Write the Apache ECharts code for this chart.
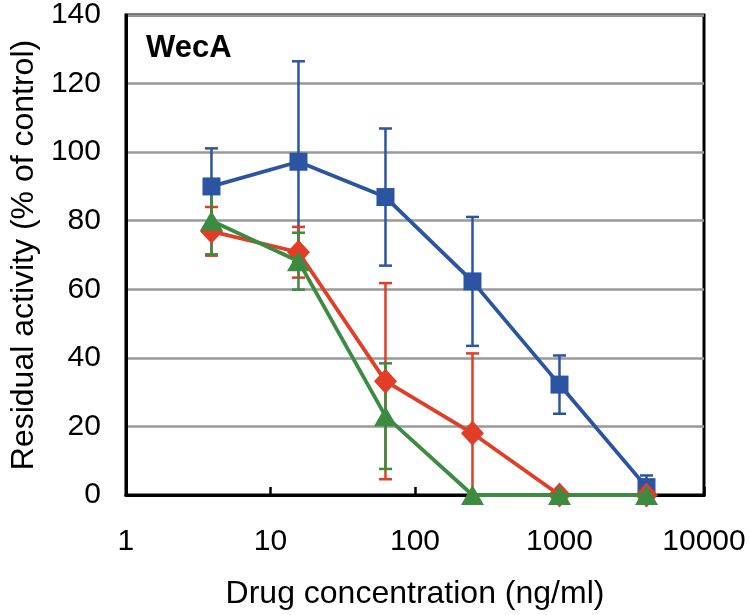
<!DOCTYPE html>
<html>
<head>
<meta charset="utf-8">
<script src="https://cdn.jsdelivr.net/npm/echarts@6/dist/echarts.min.js"></script>
<style>html,body{margin:0;padding:0;background:#fff}#c{width:750px;height:615px}</style>
</head>
<body>
<div id="c"></div>
<script>
const concentrations = [3.90625, 15.625, 62.5, 250, 1000, 4000];
const blueValues = [90.0, 97.2, 86.9, 62.3, 32.2, 2.3];
const blueErrors = [11.1, 29.3, 20.0, 18.8, 8.5, 3.4];
const redValues = [76.9, 70.8, 33.2, 18.0, 0, 0];
const redErrors = [7.1, 7.4, 28.6, 23.3, 0, 0];
const greenValues = [80.0, 68.2, 23.0, 0, 0, 0];
const greenErrors = [9.8, 8.3, 15.4, 0, 0, 0];
const xTicks = [1, 10, 100, 1000, 10000];
const yTicks = [0, 20, 40, 60, 80, 100, 120, 140];

const FONT = '"Liberation Sans", Arial, Helvetica, sans-serif';
const BLUE = '#2B55A3', RED = '#E23D27', GREEN = '#3B8C40';

function pairs(vals) { return concentrations.map((x, i) => [x, vals[i]]); }
function errData(vals, errs) { return concentrations.map((x, i) => [x, vals[i], errs[i]]); }

function errSeries(vals, errs, color) {
  return {
    type: 'custom',
    z: 1,
    data: errData(vals, errs),
    renderItem: function (params, api) {
      const x = api.value(0), v = api.value(1), e = api.value(2);
      if (!e) return null;
      const hi = api.coord([x, v + e]);
      const lo = api.coord([x, Math.max(0, v - e)]);
      const half = 6.5;
      const style = { stroke: color, lineWidth: 2.5 };
      const children = [
        { type: 'line', shape: { x1: hi[0], y1: hi[1], x2: lo[0], y2: lo[1] }, style: style },
        { type: 'line', shape: { x1: hi[0] - half, y1: hi[1], x2: hi[0] + half, y2: hi[1] }, style: style }
      ];
      if (v - e > 0) {
        children.push({ type: 'line', shape: { x1: lo[0] - half, y1: lo[1], x2: lo[0] + half, y2: lo[1] }, style: style });
      }
      return { type: 'group', children: children };
    }
  };
}

function lineSeries(vals, color, symbol, size, z) {
  return {
    type: 'line',
    z: z,
    data: pairs(vals),
    symbol: symbol,
    symbolSize: size,
    showAllSymbol: true,
    itemStyle: { color: color, opacity: 1 },
    lineStyle: { color: color, width: 3.8 },
    emphasis: { disabled: true },
    animation: false
  };
}

const chart = echarts.init(document.getElementById('c'), null, { renderer: 'canvas' });
chart.setOption({
  animation: false,
  title: {
    text: 'WecA', left: 141, top: 28,
    textStyle: { fontFamily: FONT, fontWeight: 'bold', fontSize: 31, color: '#000' }
  },
  grid: { left: 117, right: 46, top: 15, bottom: 117, show: true, borderColor: '#000', borderWidth: 3, backgroundColor: 'transparent' },
  xAxis: {
    type: 'log', logBase: 10, min: xTicks[0], max: xTicks[xTicks.length - 1],
    name: 'Drug concentration (ng/ml)', nameLocation: 'middle', nameGap: 83,
    nameTextStyle: { fontFamily: FONT, fontSize: 32, color: '#000' },
    axisLine: { show: true, lineStyle: { color: '#000', width: 3 } },
    axisTick: { show: true, inside: true, length: 8, lineStyle: { color: '#000', width: 2.5 } },
    minorTick: { show: false },
    splitLine: { show: false },
    axisLabel: { fontFamily: FONT, fontSize: 30, color: '#000', margin: 32, formatter: v => String(Math.round(v)) }
  },
  yAxis: {
    type: 'value', min: yTicks[0], max: yTicks[yTicks.length - 1], interval: 20,
    name: 'Residual activity (% of control)', nameLocation: 'middle', nameGap: 82,
    nameTextStyle: { fontFamily: FONT, fontSize: 32, color: '#000' },
    axisLine: { show: true, lineStyle: { color: '#000', width: 3 } },
    axisTick: { show: false },
    splitLine: { show: true, lineStyle: { color: '#999', width: 2.5 } },
    axisLabel: { fontFamily: FONT, fontSize: 30, color: '#000', margin: 25 }
  },
  series: [
    errSeries(blueValues, blueErrors, BLUE),
    errSeries(redValues, redErrors, RED),
    errSeries(greenValues, greenErrors, GREEN),
    lineSeries(blueValues, BLUE, 'rect', [18, 18], 2),
    lineSeries(redValues, RED, 'diamond', [23, 25], 3),
    lineSeries(greenValues, GREEN, 'triangle', [23, 20], 4)
  ]
});
</script>
</body>
</html>
